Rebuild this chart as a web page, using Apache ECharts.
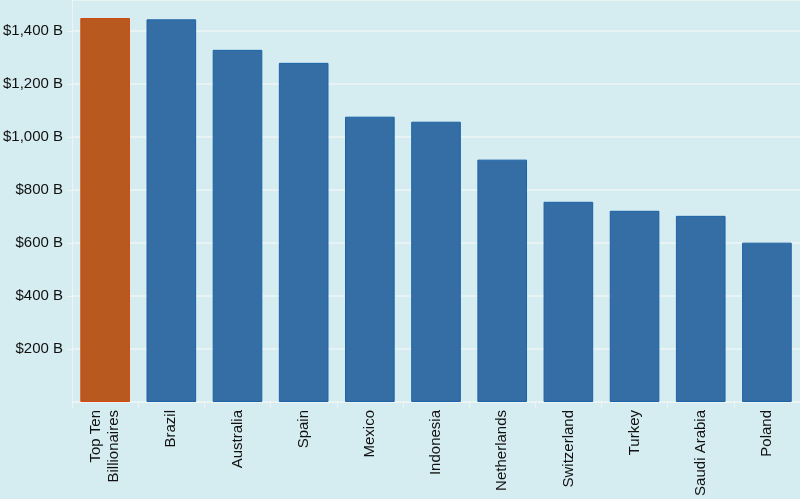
<!DOCTYPE html>
<html><head><meta charset="utf-8">
<script src="https://cdn.jsdelivr.net/npm/echarts@6/dist/echarts.min.js"></script>
<style>html,body{margin:0;padding:0;background:#d5edf1;}#c{width:800px;height:499px;}</style>
</head><body><div id="c"></div>
<script>
const categories = ["Top Ten\nBillionaires","Brazil","Australia","Spain","Mexico","Indonesia","Netherlands","Switzerland","Turkey","Saudi Arabia","Poland"];
const values = [1448,1443,1328,1279,1076,1057,914,755,721,702,601];
const highlightIndex = 0;

const chart = echarts.init(document.getElementById('c'));
chart.setOption({
  backgroundColor: '#d5edf1',
  animation: false,
  grid: {left: 72, right: -4, top: 0, bottom: 97},
  xAxis: {
    type: 'category', data: categories,
    axisLine: {show: true, lineStyle: {color: '#eef4f5', width: 1}},
    axisTick: {show: true, length: 6, lineStyle: {color: '#eef4f5'}},
    axisLabel: {rotate: 90, color: '#111', fontFamily: 'Liberation Sans', fontSize: 15, margin: 8, lineHeight: 18, interval: 0}
  },
  yAxis: {
    type: 'value', min: 0, max: 1516, interval: 200,
    axisLine: {show: true, lineStyle: {color: '#eef4f5'}},
    axisTick: {show: true, length: 5, lineStyle: {color: '#eef4f5'}},
    splitLine: {show: true, lineStyle: {color: '#eef4f5', width: 1.5}},
    axisLabel: {color: '#111', fontFamily: 'Liberation Sans', fontSize: 15, margin: 9,
      showMinLabel: false, showMaxLabel: false,
      formatter: v => (v % 200 === 0 && v > 0) ? '$' + v.toLocaleString('en-US') + ' B' : ''}
  },
  series: [{
    type: 'bar', barCategoryGap: '25%',
    data: values.map((v, i) => i === highlightIndex
      ? {value: v, itemStyle: {color: '#b85a1f', borderColor: '#d2480e', borderWidth: 1}}
      : {value: v, itemStyle: {color: '#356ea5', borderColor: '#1b62a8', borderWidth: 1}})
  }]
});
</script></body></html>
